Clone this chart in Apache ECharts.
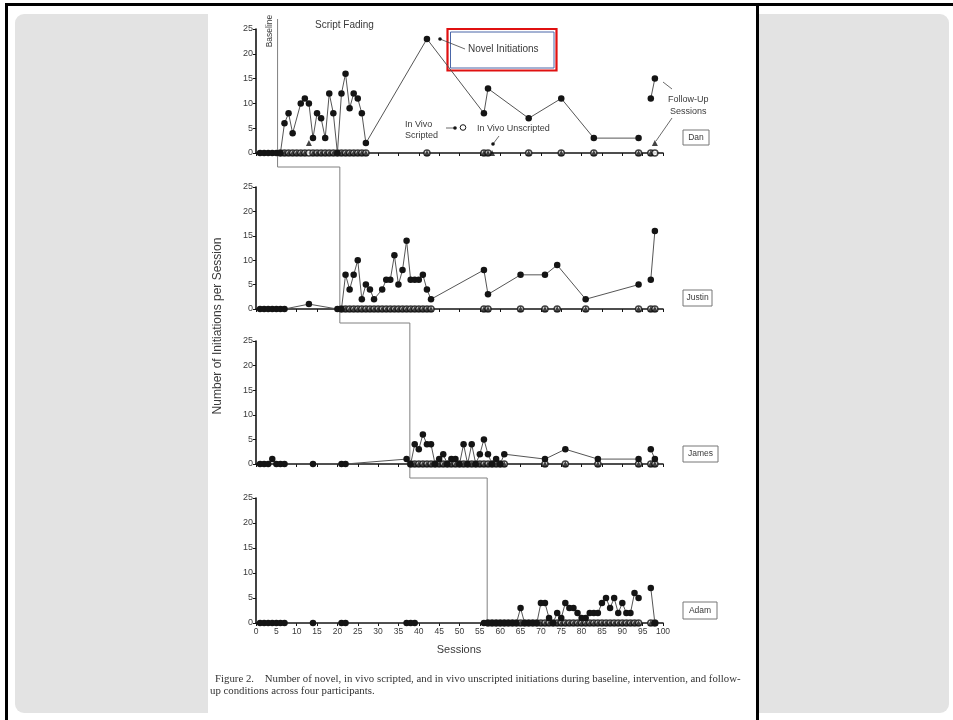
<!DOCTYPE html>
<html>
<head>
<meta charset="utf-8">
<script src="https://cdn.jsdelivr.net/npm/echarts@6/dist/echarts.min.js"></script>
<style>
  html, body { margin: 0; padding: 0; width: 953px; height: 720px; overflow: hidden; background: #fff; }
  #frameTop { position: absolute; left: 5px; top: 3px; width: 948px; height: 3px; background: #000; }
  #frameLeft { position: absolute; left: 5px; top: 3px; width: 3px; height: 717px; background: #000; }
  #slide { position: absolute; left: 15px; top: 14px; width: 934px; height: 699px; background: #e3e3e3; border-radius: 9px; }
  #page { position: absolute; left: 208px; top: 6px; width: 548px; height: 714px; background: #fff; }
  #divider { position: absolute; left: 756px; top: 3px; width: 3px; height: 717px; background: #000; }
  #chart { position: absolute; left: 0; top: 0; width: 953px; height: 720px; }
</style>
</head>
<body>
<div id="slide"></div>
<div id="page"></div>
<div id="frameTop"></div>
<div id="frameLeft"></div>
<div id="divider"></div>
<div id="chart"></div>
<script>
// ---- Dan ----
const danNovelSessions = [1, 2, 3, 4, 5, 6, 7, 8, 9, 11, 12, 13, 14, 15, 16, 17, 18, 19, 20, 21, 22, 23, 24, 25, 26, 27, 42, 56, 57, 67, 75, 83, 94];
const danNovelValues   = [0, 0, 0, 0, 0, 0, 6, 8, 4, 10, 11, 10, 3, 8, 7, 3, 12, 8, 0, 12, 16, 9, 12, 11, 8, 2, 23, 8, 13, 7, 11, 3, 3];
const danFollowSessions = [97, 98];
const danFollowValues   = [11, 15];
const danScriptedSessions = [6, 7, 8, 9, 10, 11, 12, 13, 14, 15, 16, 17, 18, 19, 20, 21, 22, 23, 24, 25, 26, 27, 42, 56, 57, 67, 75, 83, 94, 97, 98];
const danScriptedValues   = [0, 0, 0, 0, 0, 0, 0, 0, 0, 0, 0, 0, 0, 0, 0, 0, 0, 0, 0, 0, 0, 0, 0, 0, 0, 0, 0, 0, 0, 0, 0];
const danUnscriptedSessions = [6, 7, 8, 9, 10, 11, 12, 13, 14, 15, 16, 17, 18, 19, 20, 21, 22, 23, 24, 25, 26, 27, 42, 56, 57, 58, 67, 75, 83, 94, 97, 98];
const danUnscriptedValues   = [0, 0, 0, 0, 0, 0, 0, 2, 0, 0, 0, 0, 0, 0, 0, 0, 0, 0, 0, 0, 0, 0, 0, 0, 0, 0, 0, 0, 0, 0, 0, 2];

// ---- Justin ----
const justinNovelSessions = [1, 2, 3, 4, 5, 6, 7, 13, 20, 21, 22, 23, 24, 25, 26, 27, 28, 29, 31, 32, 33, 34, 35, 36, 37, 38, 39, 40, 41, 42, 43, 56, 57, 65, 71, 74, 81, 94];
const justinNovelValues   = [0, 0, 0, 0, 0, 0, 0, 1, 0, 0, 7, 4, 7, 10, 2, 5, 4, 2, 4, 6, 6, 11, 5, 8, 14, 6, 6, 6, 7, 4, 2, 8, 3, 7, 7, 9, 2, 5];
const justinFollowSessions = [97, 98];
const justinFollowValues   = [6, 16];
const justinScriptedSessions = [21, 22, 23, 24, 25, 26, 27, 28, 29, 30, 31, 32, 33, 34, 35, 36, 37, 38, 39, 40, 41, 42, 43, 56, 57, 65, 71, 74, 81, 94, 97, 98];
const justinScriptedValues   = [0, 0, 0, 0, 0, 0, 0, 0, 0, 0, 0, 0, 0, 0, 0, 0, 0, 0, 0, 0, 0, 0, 0, 0, 0, 0, 0, 0, 0, 0, 0, 0];
const justinUnscriptedSessions = [21, 22, 23, 24, 25, 26, 27, 28, 29, 30, 31, 32, 33, 34, 35, 36, 37, 38, 39, 40, 41, 42, 43, 56, 57, 65, 71, 74, 81, 94, 97, 98];
const justinUnscriptedValues   = [0, 0, 0, 0, 0, 0, 0, 0, 0, 0, 0, 0, 0, 0, 0, 0, 0, 0, 0, 0, 0, 0, 0, 0, 0, 0, 0, 0, 0, 0, 0, 0];

// ---- James ----
const jamesNovelSessions = [1, 2, 3, 4, 5, 6, 7, 14, 21, 22, 37, 38, 39, 40, 41, 42, 43, 44, 45, 46, 47, 48, 49, 50, 51, 52, 53, 54, 55, 56, 57, 58, 59, 60, 61, 71, 76, 84, 94];
const jamesNovelValues   = [0, 0, 0, 1, 0, 0, 0, 0, 0, 0, 1, 0, 4, 3, 6, 4, 4, 0, 1, 2, 0, 1, 1, 0, 4, 0, 4, 0, 2, 5, 2, 0, 1, 0, 2, 1, 3, 1, 1];
const jamesFollowSessions = [97, 98];
const jamesFollowValues   = [3, 1];
const jamesScriptedSessions = [38, 39, 40, 41, 42, 43, 44, 45, 46, 47, 48, 49, 50, 51, 52, 53, 54, 55, 56, 57, 58, 59, 60, 61, 71, 76, 84, 94, 97, 98];
const jamesScriptedValues   = [0, 0, 0, 0, 0, 0, 0, 0, 0, 0, 0, 0, 0, 0, 0, 0, 0, 0, 0, 0, 0, 0, 0, 0, 0, 0, 0, 0, 0, 0];
const jamesUnscriptedSessions = [38, 39, 40, 41, 42, 43, 44, 45, 46, 47, 48, 49, 50, 51, 52, 53, 54, 55, 56, 57, 58, 59, 60, 61, 71, 76, 84, 94, 97, 98];
const jamesUnscriptedValues   = [0, 0, 0, 0, 0, 0, 0, 0, 0, 0, 0, 0, 0, 0, 0, 0, 0, 0, 0, 0, 0, 0, 0, 0, 0, 0, 0, 0, 0, 0];

// ---- Adam ----
const adamNovelSessions = [1, 2, 3, 4, 5, 6, 7, 14, 21, 22, 37, 38, 39, 56, 57, 58, 59, 60, 61, 62, 63, 64, 65, 66, 67, 68, 69, 70, 71, 72, 73, 74, 75, 76, 77, 78, 79, 80, 81, 82, 83, 84, 85, 86, 87, 88, 89, 90, 91, 92, 93, 94];
const adamNovelValues   = [0, 0, 0, 0, 0, 0, 0, 0, 0, 0, 0, 0, 0, 0, 0, 0, 0, 0, 0, 0, 0, 0, 3, 0, 0, 0, 0, 4, 4, 1, 0, 2, 1, 4, 3, 3, 2, 1, 1, 2, 2, 2, 4, 5, 3, 5, 2, 4, 2, 2, 6, 5];
const adamFollowSessions = [97, 98];
const adamFollowValues   = [7, 0];
const adamScriptedSessions = [57, 58, 59, 60, 61, 62, 63, 64, 65, 66, 67, 68, 69, 70, 71, 72, 73, 74, 75, 76, 77, 78, 79, 80, 81, 82, 83, 84, 85, 86, 87, 88, 89, 90, 91, 92, 93, 94, 97, 98];
const adamScriptedValues   = [0, 0, 0, 0, 0, 0, 0, 0, 0, 0, 0, 0, 0, 0, 0, 0, 0, 0, 0, 0, 0, 0, 0, 0, 0, 0, 0, 0, 0, 0, 0, 0, 0, 0, 0, 0, 0, 0, 0, 0];
const adamUnscriptedSessions = [57, 58, 59, 60, 61, 62, 63, 64, 65, 66, 67, 68, 69, 70, 71, 72, 73, 74, 75, 76, 77, 78, 79, 80, 81, 82, 83, 84, 85, 86, 87, 88, 89, 90, 91, 92, 93, 94, 97, 98];
const adamUnscriptedValues   = [0, 0, 0, 0, 0, 0, 0, 0, 0, 0, 0, 0, 0, 0, 0, 0, 0, 0, 0, 0, 0, 0, 0, 0, 0, 0, 0, 0, 0, 0, 0, 0, 0, 0, 0, 0, 0, 0, 0, 0];

// Session after which each participant's intervention begins (the stepped phase line)
const phaseBreaks = [5.3, 20.6, 37.8, 56.8];
const participantNames = ['Dan', 'Justin', 'James', 'Adam'];
const sessionRange = [0, 100];
const initiationRange = [0, 25];

const zip = (xs, ys) => xs.map((x, i) => [x, ys[i]]);

const panels = [
  { top: 29,  height: 124, novel: zip(danNovelSessions, danNovelValues), follow: zip(danFollowSessions, danFollowValues),
    scripted: zip(danScriptedSessions, danScriptedValues), unscripted: zip(danUnscriptedSessions, danUnscriptedValues) },
  { top: 187, height: 122, novel: zip(justinNovelSessions, justinNovelValues), follow: zip(justinFollowSessions, justinFollowValues),
    scripted: zip(justinScriptedSessions, justinScriptedValues), unscripted: zip(justinUnscriptedSessions, justinUnscriptedValues) },
  { top: 341, height: 123, novel: zip(jamesNovelSessions, jamesNovelValues), follow: zip(jamesFollowSessions, jamesFollowValues),
    scripted: zip(jamesScriptedSessions, jamesScriptedValues), unscripted: zip(jamesUnscriptedSessions, jamesUnscriptedValues) },
  { top: 498, height: 125, novel: zip(adamNovelSessions, adamNovelValues), follow: zip(adamFollowSessions, adamFollowValues),
    scripted: zip(adamScriptedSessions, adamScriptedValues), unscripted: zip(adamUnscriptedSessions, adamUnscriptedValues) }
];

const FONT = 'Liberation Sans, Arial, sans-serif';
const INK = '#141414';
const TEXT = '#3a3a3a';

const grid = [], xAxis = [], yAxis = [], series = [];
panels.forEach((p, i) => {
  grid.push({ left: 256, width: 407, top: p.top, height: p.height });
  xAxis.push({
    type: 'value', gridIndex: i, min: sessionRange[0], max: sessionRange[1], interval: 5,
    axisLine: { show: true, onZero: false, lineStyle: { color: INK, width: 1.6 } },
    axisTick: { show: true, length: 3, lineStyle: { color: INK, width: 1 } },
    axisLabel: { show: i === 3, fontSize: 8.5, color: TEXT, margin: 4, fontFamily: FONT },
    splitLine: { show: false }
  });
  yAxis.push({
    type: 'value', gridIndex: i, min: initiationRange[0], max: initiationRange[1], interval: 5,
    axisLine: { show: true, lineStyle: { color: INK, width: 1.6 } },
    axisTick: { show: true, length: 3, lineStyle: { color: INK, width: 1 } },
    axisLabel: { fontSize: 9, color: TEXT, margin: 3, fontFamily: FONT },
    splitLine: { show: false }
  });
  const lineSeries = (data) => ({
    type: 'line', xAxisIndex: i, yAxisIndex: i, data,
    symbol: 'circle', symbolSize: 6.5, z: 4,
    itemStyle: { color: INK },
    lineStyle: { color: '#555', width: 1 }
  });
  series.push(lineSeries(p.novel), lineSeries(p.follow));
  series.push({
    type: 'scatter', xAxisIndex: i, yAxisIndex: i, data: p.scripted,
    symbol: 'circle', symbolSize: 6, z: 3,
    itemStyle: { color: '#fff', borderColor: INK, borderWidth: 1.5 }
  });
  series.push({
    type: 'scatter', xAxisIndex: i, yAxisIndex: i, data: p.unscripted,
    symbol: 'triangle', symbolSize: 6, z: 3,
    itemStyle: { color: INK }
  });
});

const txt = (x, y, text, extra) => ({
  type: 'text', x, y, silent: true,
  style: Object.assign({ text, fill: TEXT, font: '9px ' + FONT, verticalAlign: 'middle' }, extra || {})
});
const line = (pts, color, w) => ({
  type: 'polyline', silent: true, shape: { points: pts },
  style: { stroke: color || '#555', lineWidth: w || 0.8, fill: null }
});
const arrowHead = (x, y) => ({ type: 'circle', silent: true, shape: { cx: x, cy: y, r: 1.8 }, style: { fill: INK } });

const nameBoxes = [[683, 130, 26, 15], [683, 290, 29, 16], [683, 446, 35, 16], [683, 602, 34, 17]];

const graphic = [];
nameBoxes.forEach((b, i) => {
  graphic.push({ type: 'rect', silent: true, shape: { x: b[0], y: b[1], width: b[2], height: b[3] },
    style: { fill: '#fff', stroke: '#777', lineWidth: 1 } });
  graphic.push(txt(b[0] + b[2] / 2, b[1] + b[3] / 2, participantNames[i], { align: 'center', font: '8.5px ' + FONT }));
});

// Panel annotations
graphic.push(txt(315, 25, 'Script Fading', { font: '10px ' + FONT }));
graphic.push({ type: 'rect', silent: true, shape: { x: 447.5, y: 29, width: 109, height: 41.5 },
  style: { fill: null, stroke: '#e01010', lineWidth: 2.2 } });
graphic.push({ type: 'rect', silent: true, shape: { x: 450.5, y: 32, width: 103.5, height: 36 },
  style: { fill: null, stroke: '#4a66a8', lineWidth: 1 } });
graphic.push(txt(468, 49, 'Novel Initiations', { font: '10px ' + FONT }));
graphic.push(line([[465, 49], [440, 39]], '#444'));
graphic.push(arrowHead(440, 39));

graphic.push(txt(405, 125, 'In Vivo'));
graphic.push(txt(405, 136, 'Scripted'));
graphic.push(line([[446, 128], [455, 128]], '#444'));
graphic.push(arrowHead(455, 128));
graphic.push({ type: 'circle', silent: true, shape: { cx: 463, cy: 127.5, r: 2.8 }, style: { fill: '#fff', stroke: INK, lineWidth: 1 } });

graphic.push(txt(477, 129, 'In Vivo Unscripted'));
graphic.push(line([[499, 136], [493, 144]], '#444'));
graphic.push(arrowHead(493, 144));

graphic.push(txt(668, 100, 'Follow-Up'));
graphic.push(txt(670, 112, 'Sessions'));
graphic.push(line([[672, 89], [663, 82]], '#444'));
graphic.push(line([[672, 118], [656, 141]], '#444'));

// Axis titles
const yTitle = txt(218, 326, 'Number of Initiations per Session', { align: 'center', font: '12px ' + FONT });
yTitle.rotation = Math.PI / 2;
graphic.push(yTitle);
graphic.push(txt(459, 650, 'Sessions', { align: 'center', font: '11px ' + FONT }));

// Caption
const SERIF = 'Liberation Serif, Times New Roman, serif';
graphic.push(txt(215, 679, 'Figure 2.    Number of novel, in vivo scripted, and in vivo unscripted initiations during baseline, intervention, and follow-',
  { font: '10.8px ' + SERIF, fill: '#333' }));
graphic.push(txt(210, 691, 'up conditions across four participants.',
  { font: '10.8px ' + SERIF, fill: '#333' }));

const chart = echarts.init(document.getElementById('chart'), null, { renderer: 'canvas' });
chart.setOption({
  animation: false,
  backgroundColor: 'transparent',
  grid, xAxis, yAxis, series, graphic
});

// Stepped phase-change line, placed through the axes' own scales
const px = (i, s, v) => chart.convertToPixel({ xAxisIndex: i, yAxisIndex: i }, [s, v]);
const stepPts = [];
const top0 = px(0, phaseBreaks[0], initiationRange[1]);
stepPts.push([top0[0], top0[1] - 10]);
phaseBreaks.forEach((b, i) => {
  const base = px(i, b, 0);
  if (i < 3) {
    const drop = base[1] + 14;
    stepPts.push([base[0], drop]);
    stepPts.push([px(i + 1, phaseBreaks[i + 1], 0)[0], drop]);
  } else {
    stepPts.push([base[0], base[1]]);
  }
});
const extra = [
  { id: 'phaseLine', type: 'polyline', silent: true, z: 1, shape: { points: stepPts },
    style: { stroke: '#808080', lineWidth: 1, fill: null } },
  { id: 'baselineLabel', type: 'text', silent: true, x: top0[0] - 8, y: top0[1] + 2, rotation: Math.PI / 2,
    style: { text: 'Baseline', fill: TEXT, font: '8.5px ' + FONT, align: 'center', verticalAlign: 'middle' } }
];
chart.setOption({ graphic: graphic.concat(extra) });
</script>
</body>
</html>
